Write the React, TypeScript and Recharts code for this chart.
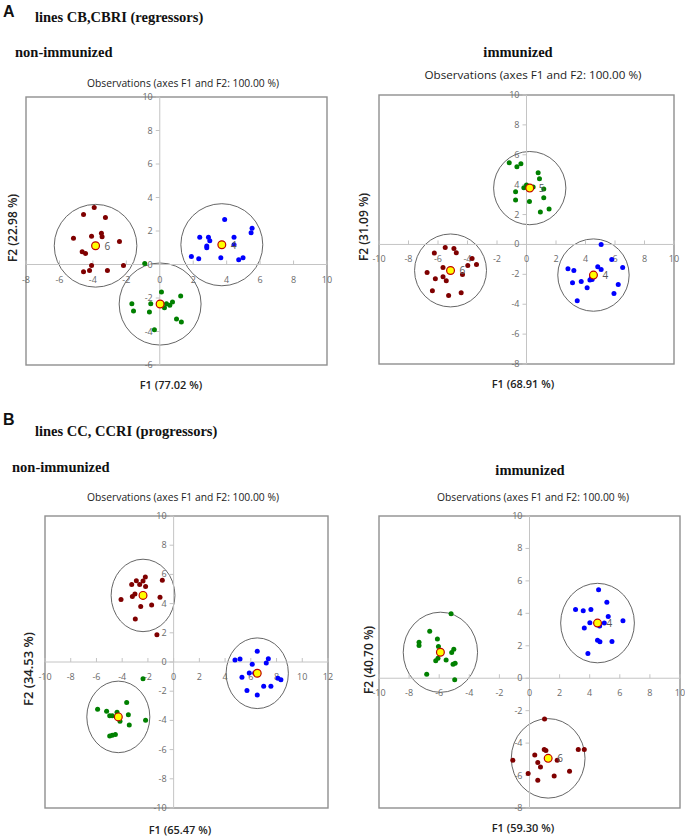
import React from 'react';
import { ScatterChart, Scatter, XAxis, YAxis, ReferenceLine, ReferenceArea, ReferenceDot } from 'recharts';

const RED = '#7f0000';
const GREEN = '#008000';
const BLUE = '#0000ff';

// A, non-immunized
const aNonRed = [[-3.92, 3.41], [-4.56, 2.99], [-3.25, 2.81], [-5.16, 1.56], [-4.08, 1.68], [-3.49, 1.86], [-3.45, 1.66], [-2.41, 1.38], [-4.64, 0.76], [-4.44, 0.66], [-4.08, -0.06], [-2.17, -0.06], [-4.56, -0.44], [-4.2, -0.36], [-3.13, -0.36]];
const aNonBlue = [[3.88, 2.69], [5.52, 2.16], [5.46, 1.9], [2.39, 1.62], [2.91, 1.62], [2.99, 1.42], [4.44, 1.62], [2.81, 1.1], [2.81, 1.0], [1.89, 0.48], [2.33, 0.34], [3.65, 0.4], [4.98, 0.4], [4.72, 0.28], [4.44, 1.18]];
const aNonGreen = [[-0.9, 0.06], [0.1, -1.64], [1.25, -1.88], [-1.67, -2.34], [-0.54, -2.34], [0.4, -2.34], [0.76, -2.24], [0.6, -2.44], [0.28, -2.58], [-1.57, -2.78], [-0.62, -2.84], [1.0, -3.26], [1.29, -3.44], [-0.32, -3.9]];
const aNonCentroids = [
  { x: -3.84, y: 1.12, r: 2.47, label: '6', color: RED },
  { x: 3.71, y: 1.18, r: 2.45, label: '4', color: BLUE },
  { x: 0.02, y: -2.36, r: 2.45, label: '', color: GREEN },
];

// A, immunized
const aImmGreen = [[-1.17, 5.47], [-0.65, 5.2], [-0.38, 5.4], [0.79, 4.8], [0.88, 4.4], [-0.18, 3.79], [0.0, 3.97], [0.45, 3.84], [-0.74, 3.53], [1.17, 3.71], [-0.74, 2.97], [0.2, 2.88], [1.17, 3.13], [1.53, 2.37], [0.94, 2.17]];
const aImmRed = [[-5.51, -0.2], [-4.92, -0.27], [-6.25, -0.58], [-4.76, -0.56], [-3.69, -0.94], [-3.98, -1.41], [-3.39, -1.34], [-6.74, -1.88], [-5.66, -1.54], [-5.66, -2.17], [-6.18, -2.3], [-5.44, -2.43], [-4.34, -2.01], [-6.38, -3.1], [-5.28, -3.42], [-4.43, -3.24]];
const aImmBlue = [[5.06, 0.0], [5.78, -1.0], [6.52, -1.54], [2.81, -1.63], [3.21, -1.74], [4.83, -1.5], [5.06, -1.67], [3.12, -2.57], [3.71, -2.48], [4.4, -2.21], [4.11, -2.9], [4.45, -2.35], [4.3, -2.38], [6.22, -2.68], [5.93, -3.28], [3.44, -3.77]];
const aImmCentroids = [
  { x: 0.22, y: 3.77, r: 2.45, label: '5', color: GREEN },
  { x: -5.15, y: -1.74, r: 2.44, label: '6', color: RED },
  { x: 4.54, y: -2.05, r: 2.42, label: '4', color: BLUE },
];

// B, non-immunized
const bNonRed = [[-2.2, 5.83], [-2.9, 5.56], [-3.26, 5.31], [-2.64, 5.31], [-2.38, 5.54], [-0.88, 5.6], [-2.18, 5.17], [-3.01, 4.65], [-3.21, 4.49], [-4.09, 4.28], [-1.06, 4.44], [-2.56, 3.8], [-1.71, 3.9], [-2.98, 2.94], [-1.3, 1.87]];
const bNonGreen = [[-2.38, -1.14], [-3.65, -2.78], [-5.91, -3.23], [-5.21, -3.37], [-4.97, -3.69], [-4.77, -3.69], [-4.4, -3.44], [-3.52, -3.62], [-4.17, -4.05], [-3.45, -4.31], [-2.18, -3.99], [-4.97, -5.06], [-4.77, -5.01], [-4.53, -4.97]];
const bNonBlue = [[6.5, 0.73], [7.36, 0.23], [5.16, 0.21], [4.77, 0.14], [6.11, -0.16], [7.2, -0.07], [5.88, -0.75], [6.3, -0.75], [5.31, -1.05], [8.11, -1.12], [8.34, -1.21], [7.0, -1.66], [7.56, -1.66], [5.7, -1.96], [6.5, -2.26]];
const bNonCentroids = [
  { x: -2.38, y: 4.56, r: 2.48, label: '', color: RED },
  { x: -4.3, y: -3.76, r: 2.45, label: '', color: GREEN },
  { x: 6.5, y: -0.77, r: 2.42, label: '', color: BLUE },
];

// B, immunized
const bImmGreen = [[-5.21, 3.98], [-6.63, 2.89], [-6.12, 2.42], [-7.34, 2.21], [-7.34, 2.01], [-6.05, 1.95], [-5.03, 1.78], [-5.17, 1.58], [-6.08, 1.23], [-6.23, 1.07], [-5.54, 1.13], [-4.94, 0.92], [-5.08, 0.86], [-6.83, 0.25], [-4.97, -0.1]];
const bImmBlue = [[4.59, 5.45], [5.14, 4.69], [3.06, 4.24], [3.57, 4.16], [4.08, 4.24], [5.23, 3.81], [6.21, 3.55], [4.01, 3.42], [4.97, 3.4], [4.66, 3.22], [3.64, 3.09], [4.52, 2.34], [4.68, 2.25], [5.48, 2.27], [3.88, 1.52]];
const bImmRed = [[1.0, -2.52], [-1.11, -5.06], [0.35, -4.73], [0.98, -4.39], [1.09, -4.45], [3.24, -4.39], [3.64, -4.39], [0.55, -5.2], [0.73, -5.47], [1.84, -5.06], [2.66, -5.74], [-0.09, -5.88], [1.64, -6.02], [0.55, -6.29]];
const bImmCentroids = [
  { x: -5.92, y: 1.6, r: 2.47, label: '', color: GREEN },
  { x: 4.52, y: 3.4, r: 2.45, label: '4', color: BLUE },
  { x: 1.24, y: -4.94, r: 2.45, label: '6', color: RED },
];

const ticks = (from: number, to: number) => {
  const out: number[] = [];
  for (let t = from; t <= to; t += 2) out.push(t);
  return out;
};

const toPts = (arr: number[][]) => arr.map(([x, y]) => ({ x, y }));

const AXIS = '#c4c4c4';
const TICK_TXT = '#6a6a6a';
const M = 16;

function Panel({ left, top, width, height, xDomain, yDomain, groups, centroids }: any) {
  const xTicks = ticks(xDomain[0], xDomain[1]);
  const yTicks = ticks(yDomain[0], yDomain[1]);
  return (
    <div style={{ position: 'absolute', left: left - M, top: top - M }}>
      <ScatterChart width={width + 2 * M} height={height + 2 * M} margin={{ top: M, right: M, bottom: M, left: M }}>
        <XAxis type="number" dataKey="x" domain={xDomain} hide allowDataOverflow height={0} />
        <YAxis type="number" dataKey="y" domain={yDomain} hide allowDataOverflow width={0} />
        <ReferenceArea
          x1={xDomain[0]} x2={xDomain[1]} y1={yDomain[0]} y2={yDomain[1]}
          ifOverflow="visible"
          shape={(p: any) => (
            <rect x={p.x} y={p.y} width={p.width} height={p.height} fill="none" stroke="#8f8f8f" strokeWidth={1.4} />
          )}
        />
        <ReferenceLine x={0} stroke={AXIS} strokeWidth={1} />
        <ReferenceLine y={0} stroke={AXIS} strokeWidth={1} />
        {xTicks.map((t) => (
          <ReferenceDot key={'x' + t} x={t} y={0} r={0} ifOverflow="visible"
            shape={(p: any) => (
              <g>
                <line x1={p.cx} x2={p.cx} y1={p.cy - 4} y2={p.cy} stroke={AXIS} />
                <text x={p.cx} y={p.cy + 18} textAnchor="middle" fontSize={9} fontFamily="Open Sans" fill={TICK_TXT}>{t}</text>
              </g>
            )}
          />
        ))}
        {yTicks.map((t) => (
          <ReferenceDot key={'y' + t} x={0} y={t} r={0} ifOverflow="visible"
            shape={(p: any) => (
              <g>
                <line x1={p.cx - 4} x2={p.cx} y1={p.cy} y2={p.cy} stroke={AXIS} />
                <text x={p.cx - 7} y={p.cy + 3} textAnchor="end" fontSize={9} fontFamily="Open Sans" fill={TICK_TXT}>{t}</text>
              </g>
            )}
          />
        ))}
        {centroids.map((c: any, i: number) => (
          <ReferenceArea key={'c' + i} x1={c.x - c.r} x2={c.x + c.r} y1={c.y - c.r} y2={c.y + c.r} ifOverflow="visible"
            shape={(p: any) => (
              <ellipse cx={p.x + p.width / 2} cy={p.y + p.height / 2} rx={Math.abs(p.width) / 2} ry={Math.abs(p.height) / 2}
                fill="none" stroke="#555" strokeWidth={0.9} />
            )}
          />
        ))}
        {groups.map((g: any, i: number) => (
          <Scatter key={'g' + i} data={toPts(g.data)} isAnimationActive={false}
            shape={(p: any) => <circle cx={p.cx} cy={p.cy} r={2.5} fill={g.color} />} />
        ))}
        <Scatter data={centroids} isAnimationActive={false}
          shape={(p: any) => (
            <g>
              <circle cx={p.cx} cy={p.cy} r={3.9} fill="#ffff00" stroke="#c00000" strokeWidth={1.2} />
              <text x={p.cx + 9} y={p.cy + 4} fontSize={10} fontFamily="Open Sans" fill="#555">{p.payload.label}</text>
            </g>
          )} />
      </ScatterChart>
    </div>
  );
}

const heading = { fontFamily: '"Liberation Serif", serif', fontWeight: 700, fontSize: 14.5, fill: '#111' } as const;
const obs = { fontFamily: '"Open Sans", sans-serif', fontSize: 10.5, fill: '#222' } as const;
const fLab = { fontFamily: '"Open Sans", sans-serif', fontSize: 11, fontWeight: 600, fill: '#222' } as const;
const OBS = 'Observations (axes F1 and F2: 100.00 %)';

export default function App() {
  return (
    <div style={{ position: 'absolute', left: 0, top: 0, width: 685, height: 838, background: '#fff', overflow: 'hidden' }}>
      <Panel left={26} top={97} width={301} height={268} xDomain={[-8, 10]} yDomain={[-6, 10]}
        groups={[{ data: aNonRed, color: RED }, { data: aNonBlue, color: BLUE }, { data: aNonGreen, color: GREEN }]}
        centroids={aNonCentroids} />
      <Panel left={379} top={95} width={295} height={269} xDomain={[-10, 10]} yDomain={[-8, 10]}
        groups={[{ data: aImmGreen, color: GREEN }, { data: aImmRed, color: RED }, { data: aImmBlue, color: BLUE }]}
        centroids={aImmCentroids} />
      <Panel left={45} top={516} width={283} height={292} xDomain={[-10, 12]} yDomain={[-10, 10]}
        groups={[{ data: bNonRed, color: RED }, { data: bNonGreen, color: GREEN }, { data: bNonBlue, color: BLUE }]}
        centroids={bNonCentroids} />
      <Panel left={379} top={516} width={301} height={292} xDomain={[-10, 10]} yDomain={[-8, 10]}
        groups={[{ data: bImmGreen, color: GREEN }, { data: bImmBlue, color: BLUE }, { data: bImmRed, color: RED }]}
        centroids={bImmCentroids} />
      <svg width={685} height={838} style={{ position: 'absolute', left: 0, top: 0, pointerEvents: 'none' }}>
        <text x={3} y={17} fontFamily='"Liberation Sans", Arial' fontWeight={700} fontSize={16} fill="#111">A</text>
        <text x={35} y={22} {...heading}>lines CB,CBRI (regressors)</text>
        <text x={15} y={57} {...heading}>non-immunized</text>
        <text x={518} y={57} textAnchor="middle" {...heading}>immunized</text>
        <text x={183} y={87} textAnchor="middle" textLength={192} lengthAdjust="spacingAndGlyphs" {...obs}>{OBS}</text>
        <text x={533} y={79} textAnchor="middle" textLength={217} lengthAdjust="spacingAndGlyphs" {...obs}>{OBS}</text>
        <text x={171} y={389} textAnchor="middle" {...fLab}>F1 (77.02 %)</text>
        <text x={523} y={388} textAnchor="middle" {...fLab}>F1 (68.91 %)</text>
        <text transform="translate(17,228) rotate(-90)" textAnchor="middle" {...fLab} fontSize={12}>F2 (22.98 %)</text>
        <text transform="translate(368,227) rotate(-90)" textAnchor="middle" {...fLab} fontSize={12}>F2 (31.09 %)</text>

        <text x={3} y={425} fontFamily='"Liberation Sans", Arial' fontWeight={700} fontSize={16} fill="#111">B</text>
        <text x={35} y={436} {...heading}>lines CC, CCRI (progressors)</text>
        <text x={12} y={472} {...heading}>non-immunized</text>
        <text x={530} y={475} textAnchor="middle" {...heading}>immunized</text>
        <text x={183} y={501} textAnchor="middle" textLength={192} lengthAdjust="spacingAndGlyphs" {...obs}>{OBS}</text>
        <text x={533} y={501} textAnchor="middle" textLength={192} lengthAdjust="spacingAndGlyphs" {...obs}>{OBS}</text>
        <text x={180} y={834} textAnchor="middle" {...fLab}>F1 (65.47 %)</text>
        <text x={523} y={832} textAnchor="middle" {...fLab}>F1 (59.30 %)</text>
        <text transform="translate(33,669) rotate(-90)" textAnchor="middle" {...fLab} fontSize={13}>F2 (34.53 %)</text>
        <text transform="translate(373,660) rotate(-90)" textAnchor="middle" {...fLab} fontSize={12}>F2 (40.70 %)</text>
      </svg>
    </div>
  );
}
